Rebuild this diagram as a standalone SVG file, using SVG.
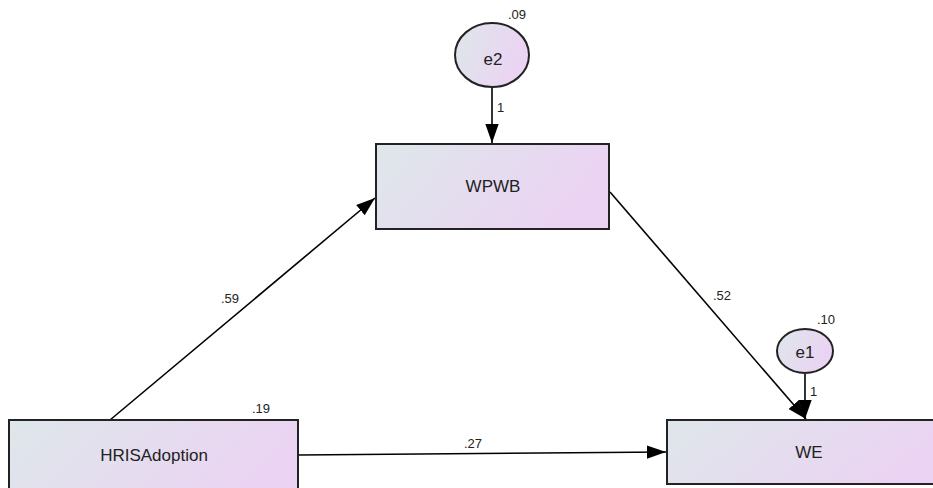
<svg xmlns="http://www.w3.org/2000/svg" width="933" height="488" viewBox="0 0 933 488">
<defs>
<linearGradient id="g" x1="0" y1="0" x2="1" y2="0.3">
<stop offset="0" stop-color="#dee7ea"/>
<stop offset="1" stop-color="#ebd3f3"/>
</linearGradient>
<marker id="arr" viewBox="0 0 10 10" refX="10" refY="5" markerWidth="19" markerHeight="19" markerUnits="userSpaceOnUse" orient="auto">
<path d="M0,1.5 L10,5 L0,8.5 z" fill="#000"/>
</marker>
</defs>
<style>
.box{fill:url(#g);stroke:#222;stroke-width:2}
.lbl{font-family:"Liberation Sans",Arial,sans-serif;font-size:17px;fill:#222;text-anchor:middle}
.sm{font-family:"Liberation Sans",Arial,sans-serif;font-size:13px;fill:#222}
.con{stroke:#000;stroke-width:1.6;fill:none;marker-end:url(#arr)}
</style>
<g id="connectors">
<line class="con" x1="492" y1="88" x2="492" y2="143"/>
<line class="con" x1="805" y1="374" x2="805" y2="419"/>
<line class="con" x1="110" y1="420" x2="375" y2="198"/>
<line class="con" x1="610" y1="192" x2="806" y2="419"/>
<line class="con" x1="299" y1="455" x2="666" y2="452"/>
<text class="sm" x="497" y="112">1</text>
<text class="sm" x="810" y="396">1</text>
<text class="sm" x="221" y="303">.59</text>
<text class="sm" x="713" y="300">.52</text>
<text class="sm" x="464" y="448">.27</text>
</g>
<g id="e2">
<ellipse class="box" cx="492" cy="55" rx="37" ry="32"/>
<text class="lbl" x="493" y="65">e2</text>
<text class="sm" x="508" y="19">.09</text>
</g>
<g id="WPWB">
<rect class="box" x="376" y="144" width="233" height="85"/>
<text class="lbl" x="493" y="192">WPWB</text>
</g>
<g id="HRISAdoption">
<rect class="box" x="9" y="420" width="289" height="90"/>
<text class="lbl" x="154" y="461">HRISAdoption</text>
<text class="sm" x="252" y="413">.19</text>
</g>
<g id="e1">
<ellipse class="box" cx="805" cy="351" rx="28" ry="22"/>
<text class="lbl" x="805" y="358">e1</text>
<text class="sm" x="817" y="324">.10</text>
</g>
<g id="WE">
<rect class="box" x="667" y="420" width="280" height="64"/>
<text class="lbl" x="809" y="458">WE</text>
</g>
</svg>
